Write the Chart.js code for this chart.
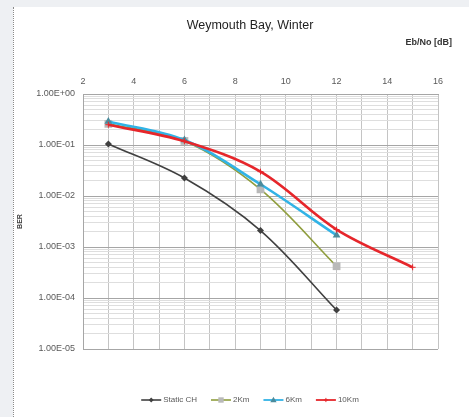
<!DOCTYPE html>
<html>
<head>
<meta charset="utf-8">
<title>Weymouth Bay, Winter</title>
<script src="https://cdn.jsdelivr.net/npm/chart.js@4.4.1/dist/chart.umd.min.js"></script>
<style>
    html, body { margin: 0; padding: 0; overflow: hidden; }
    body { width: 469px; height: 417px; background: #eef0f3; position: relative; }
    #sheet { position: absolute; left: 13px; top: 7px; width: 456px; height: 410px; background: #fff; border-left: 1px dotted #8a8a8a; }
    #berChart { position: absolute; left: 1px; top: 1px; }
</style>
</head>
<body>
<div id="sheet"><canvas id="berChart" width="454" height="409"></canvas></div>
<script>
// Values
const chartTitle = 'Weymouth Bay, Winter';
const xAxisTitle = 'Eb/No [dB]';
const yAxisTitle = 'BER';
const seriesNames = ['Static CH', '2Km', '6Km', '10Km'];

const ebNoShort = [3, 6, 9, 12];
const ebNoLong = [3, 6, 9, 12, 15];

const berStatic = [0.105, 0.0225, 0.0021, 0.000058];
const ber2Km = [0.26, 0.12, 0.0135, 0.00042];
const ber6Km = [0.29, 0.125, 0.017, 0.0017];
const ber10Km = [0.25, 0.118, 0.03, 0.0022, 0.0004];

// axis ticks
const xTicks = [2, 3, 4, 5, 6, 7, 8, 9, 10, 11, 12, 13, 14, 15, 16];
const xTickLabels = ['2', '', '4', '', '6', '', '8', '', '10', '', '12', '', '14', '', '16'];
const yDecades = [1e-5, 1e-4, 1e-3, 1e-2, 1e-1, 1];
const yDecadeLabels = ['1.00E-05', '1.00E-04', '1.00E-03', '1.00E-02', '1.00E-01', '1.00E+00'];

// look of each series (Excel style markers)
const seriesStyles = [
    { color: '#404040', width: 1.6, marker: 'rectRot', radius: 3.5, markerColor: '#404040' },
    { color: '#8f9d3d', width: 1.6, marker: 'rect', radius: 5.5, markerColor: '#b9b9b9' },
    { color: '#31b3e6', width: 2.6, marker: 'triangle', radius: 4.5, markerColor: '#4b8b9c' },
    { color: '#e6262b', width: 2.6, marker: 'cross', radius: 3, markerColor: '#e6262b' }
];

// every minor grid line of the log axis (1..9 per decade)
const yTicks = [];
yDecades.forEach((d, i) => {
    if (i === yDecades.length - 1) { yTicks.push(d); return; }
    for (let m = 1; m < 10; m++) yTicks.push(+(m * d).toPrecision(3));
});

function toPoints(xs, ys) {
    return xs.map((x, i) => ({ x: x, y: ys[i] }));
}

const seriesData = [
    toPoints(ebNoShort, berStatic),
    toPoints(ebNoShort, ber2Km),
    toPoints(ebNoShort, ber6Km),
    toPoints(ebNoLong, ber10Km)
];

function drawMarker(ctx, shape, x, y, r, color) {
    ctx.beginPath();
    if (shape === 'rectRot') {
        ctx.moveTo(x, y - r); ctx.lineTo(x + r, y); ctx.lineTo(x, y + r); ctx.lineTo(x - r, y);
        ctx.closePath();
    } else if (shape === 'rect') {
        ctx.rect(x - r * 0.7, y - r * 0.7, r * 1.4, r * 1.4);
    } else if (shape === 'triangle') {
        ctx.moveTo(x, y - r); ctx.lineTo(x + r, y + r * 0.7); ctx.lineTo(x - r, y + r * 0.7);
        ctx.closePath();
    } else {
        ctx.moveTo(x, y - r); ctx.lineTo(x, y + r);
        ctx.moveTo(x - r, y); ctx.lineTo(x + r, y);
        ctx.strokeStyle = color; ctx.lineWidth = 1; ctx.stroke();
        return;
    }
    ctx.fillStyle = color;
    ctx.fill();
}

// Title, top axis caption and the line+marker legend, placed like the Excel sheet
const sheetText = {
    id: 'sheetText',
    afterDraw(chart) {
        const ctx = chart.ctx;
        const area = chart.chartArea;
        ctx.save();
        ctx.textBaseline = 'middle';

        ctx.fillStyle = '#1f1f1f';
        ctx.font = '12.5px "Liberation Sans", Arial, sans-serif';
        ctx.textAlign = 'center';
        ctx.fillText(chartTitle, 235, 18);

        ctx.font = 'bold 9px "Liberation Sans", Arial, sans-serif';
        ctx.textAlign = 'right';
        ctx.fillStyle = '#333333';
        ctx.fillText(xAxisTitle, area.right + 14, 35);

        // legend
        ctx.font = '8px "Liberation Sans", Arial, sans-serif';
        ctx.textAlign = 'left';
        const lineLen = 20, gap = 2, spacing = 14;
        const widths = seriesNames.map(n => lineLen + gap + ctx.measureText(n).width);
        const total = widths.reduce((a, b) => a + b, 0) + spacing * (widths.length - 1);
        let x = 235 - total / 2;
        const y = 392;
        seriesNames.forEach((name, i) => {
            const s = seriesStyles[i];
            ctx.beginPath();
            ctx.moveTo(x, y); ctx.lineTo(x + lineLen, y);
            ctx.strokeStyle = s.color;
            ctx.lineWidth = Math.min(s.width, 1.8);
            ctx.stroke();
            drawMarker(ctx, s.marker, x + lineLen / 2, y, s.radius * 0.7, s.markerColor);
            ctx.fillStyle = '#595959';
            ctx.fillText(name, x + lineLen + gap, y);
            x += widths[i] + spacing;
        });
        ctx.restore();
    }
};

document.addEventListener('DOMContentLoaded', function() {
    const ctx = document.getElementById('berChart').getContext('2d');

    const datasets = seriesNames.map((name, i) => {
        const s = seriesStyles[i];
        return {
            label: name,
            data: seriesData[i],
            borderColor: s.color,
            backgroundColor: s.markerColor,
            borderWidth: s.width,
            pointStyle: s.marker,
            pointRadius: s.radius,
            pointBackgroundColor: s.markerColor,
            pointBorderColor: s.markerColor,
            pointBorderWidth: s.marker === 'cross' ? 1 : 0,
            tension: 0.35,
            fill: false,
            order: seriesNames.length - i // later series on top, like Excel
        };
    });

    new Chart(ctx, {
        type: 'line',
        data: { datasets: datasets },
        options: {
            responsive: false,
            animation: false,
            layout: { padding: { left: 0, top: 0, right: 31, bottom: 68 } },
            plugins: {
                legend: { display: false },
                title: { display: false },
                tooltip: { enabled: false }
            },
            scales: {
                x: {
                    type: 'linear',
                    position: 'top',
                    min: 2,
                    max: 16,
                    afterFit: function(scale) { scale.height = 86; },
                    afterBuildTicks: function(scale) {
                        scale.ticks = xTicks.map(v => ({ value: v }));
                    },
                    ticks: {
                        autoSkip: false,
                        maxRotation: 0,
                        padding: 7,
                        color: '#595959',
                        font: { family: '"Liberation Sans", Arial, sans-serif', size: 9 },
                        callback: function(value) {
                            const i = xTicks.indexOf(value);
                            return i >= 0 ? xTickLabels[i] : '';
                        }
                    },
                    grid: { color: '#c4c4c4', lineWidth: 1, drawTicks: false },
                    border: { color: '#a6a6a6' }
                },
                y: {
                    type: 'logarithmic',
                    min: 1e-5,
                    max: 1,
                    afterFit: function(scale) { scale.width = 68; },
                    afterBuildTicks: function(scale) {
                        scale.ticks = yTicks.map(v => ({ value: v }));
                    },
                    title: {
                        display: true,
                        text: yAxisTitle,
                        color: '#404040',
                        padding: { top: 1, bottom: 0 },
                        font: { family: '"Liberation Sans", Arial, sans-serif', size: 7, weight: 'bold' }
                    },
                    ticks: {
                        autoSkip: false,
                        padding: 8,
                        color: '#595959',
                        font: { family: '"Liberation Sans", Arial, sans-serif', size: 9 },
                        callback: function(value) {
                            const i = yDecades.findIndex(d => Math.abs(d - value) < d * 1e-6);
                            return i >= 0 ? yDecadeLabels[i] : '';
                        }
                    },
                    grid: {
                        drawTicks: false,
                        color: function(c) {
                            const v = c.tick ? c.tick.value : 0;
                            return yDecades.some(d => Math.abs(d - v) < d * 1e-6) ? '#a6a6a6' : '#dedede';
                        }
                    },
                    border: { color: '#a6a6a6' }
                }
            }
        },
        plugins: [sheetText]
    });
});
</script>
</body>
</html>
